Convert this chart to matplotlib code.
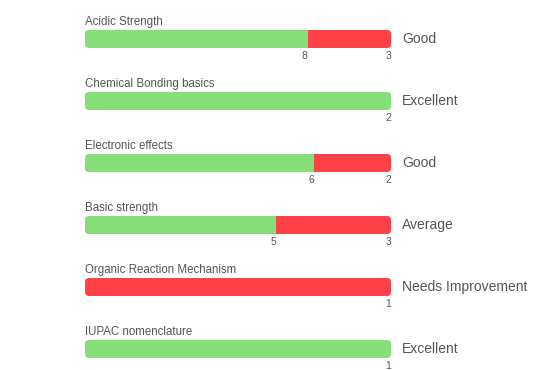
import matplotlib
matplotlib.use("Agg")
import matplotlib.pyplot as plt
from matplotlib.patches import FancyBboxPatch

# Topic performance data
topics = ["Acidic Strength", "Chemical Bonding basics", "Electronic effects",
          "Basic strength", "Organic Reaction Mechanism", "IUPAC nomenclature"]
correct = [8, 2, 6, 5, 0, 1]
incorrect = [3, 0, 2, 3, 1, 0]
ratings = ["Good", "Excellent", "Good", "Average", "Needs Improvement", "Excellent"]

green = "#85de77"
red = "#ff4248"
text_color = "#555555"
plt.rcParams['font.family'] = ['Liberation Sans', 'DejaVu Sans']

W, H = 554, 370
fig = plt.figure(figsize=(W / 100, H / 100), dpi=100)
left_px, right_px = 85, 391
ax = fig.add_axes([left_px / W, 0, (right_px - left_px) / W, 1])
spacing = 62
first = 39
ax.set_xlim(0, 1)
ax.set_ylim((H - first) / spacing, -first / spacing)
ax.axis("off")

bar_h = 18 / spacing
aspect = (right_px - left_px) / spacing

for i, topic in enumerate(topics):
    total = correct[i] + incorrect[i]
    g = correct[i] / total
    clip = FancyBboxPatch((0, i - bar_h / 2), 1, bar_h,
                          boxstyle="round,pad=0,rounding_size=%f" % (4 / (right_px - left_px)),
                          mutation_aspect=aspect, transform=ax.transData)
    bars = []
    if correct[i] > 0:
        bars += list(ax.barh(i, g, left=0, height=bar_h, color=green, linewidth=0))
    if incorrect[i] > 0:
        bars += list(ax.barh(i, 1 - g, left=g, height=bar_h, color=red, linewidth=0))
    for b in bars:
        b.set_clip_path(clip)

    ax.text(0, i - bar_h / 2 - 0.04, topic, fontsize=8.3, color=text_color,
            ha="left", va="bottom")
    if correct[i] > 0:
        ax.text(g, i + bar_h / 2 + 0.05, str(correct[i]), fontsize=7.5,
                color=text_color, ha="right", va="top")
    if incorrect[i] > 0:
        ax.text(1, i + bar_h / 2 + 0.05, str(incorrect[i]), fontsize=7.5,
                color=text_color, ha="right", va="top")
    ax.text(1 + 11 / (right_px - left_px), i, ratings[i], fontsize=10,
            color=text_color, ha="left", va="center")

fig.savefig("out.png", dpi=100)
